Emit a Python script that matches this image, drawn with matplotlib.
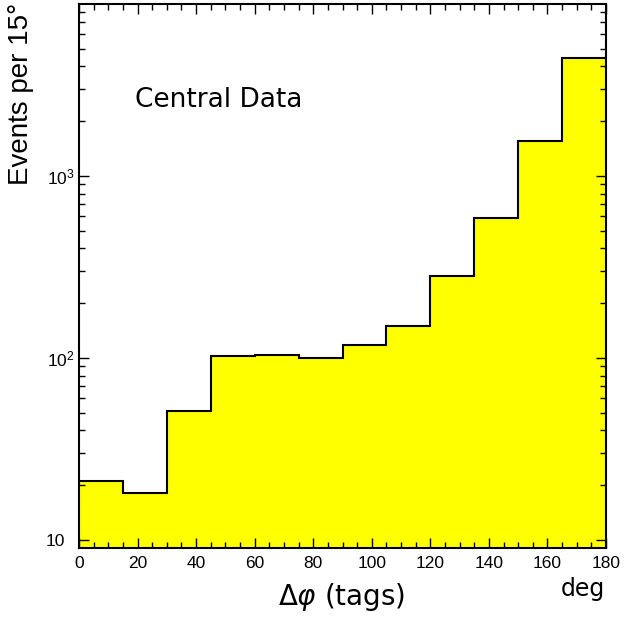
import numpy as np
import matplotlib
matplotlib.use("Agg")
import matplotlib.pyplot as plt
import matplotlib.transforms as mtransforms
from matplotlib.ticker import MultipleLocator, LogLocator, NullFormatter

plt.rcParams['font.family'] = ['Liberation Sans', 'DejaVu Sans']
plt.rcParams['mathtext.fontset'] = 'custom'
plt.rcParams['mathtext.rm'] = 'Liberation Sans'
plt.rcParams['mathtext.it'] = 'Liberation Sans:italic'

# bin edges in degrees and events per bin
bin_edges = [0, 15, 30, 45, 60, 75, 90, 105, 120, 135, 150, 165, 180]
events = [21.1, 18.1, 51, 102.5, 104, 100, 118, 150, 282, 590, 1560, 4450]
y_ticks = [10, 100, 1000]
y_tick_labels = ['10', r'$10^2$', r'$10^3$']

fig = plt.figure(figsize=(6.24, 6.19), dpi=100)
ax = fig.add_axes([0.1266, 0.1147, 0.8446, 0.8788])

ax.stairs(events, bin_edges, baseline=1, fill=True, color='#ffff00', zorder=1)
ax.stairs(events, bin_edges, baseline=None, color='black', linewidth=1.5, zorder=2)

ax.set_yscale('log')
ax.set_xlim(0, 180)
ax.set_ylim(9.03, 8810)

ax.xaxis.set_major_locator(MultipleLocator(20))
ax.xaxis.set_minor_locator(MultipleLocator(5))
ax.set_yticks(y_ticks)
ax.set_yticklabels(y_tick_labels)
ax.yaxis.set_minor_locator(LogLocator(base=10, subs=np.arange(2, 10)))
ax.yaxis.set_minor_formatter(NullFormatter())

ax.tick_params(which='both', direction='in', top=True, right=True, width=1.0)
ax.tick_params(which='major', length=7.2, labelsize=12.5)
ax.tick_params(which='minor', length=4.2)
ax.tick_params(axis='x', which='major', pad=6)
ax.tick_params(axis='y', which='major', pad=3)
for s in ax.spines.values():
    s.set_linewidth(1.5)

# keep the plain "10" lined up with the bases of 10^2 and 10^3
lbl = ax.get_yticklabels()[0]
lbl.set_transform(lbl.get_transform() +
                  mtransforms.ScaledTranslation(-7 / 72, 0, fig.dpi_scale_trans))

fig.text(21 / 624, 1 - 3 / 619, 'Events per 15°', fontsize=20, rotation=90,
         ha='center', va='top')
fig.text(0.547, 0.0355, r'$\Delta\varphi$ (tags)', fontsize=20, ha='center',
         va='center', family='DejaVu Sans', math_fontfamily='dejavusans')
fig.text(0.934, 0.0485, 'deg', fontsize=17, ha='center', va='center',
         family='DejaVu Sans')
ax.text(0.106, 0.811, 'Central Data', transform=ax.transAxes, fontsize=19,
        family='DejaVu Sans', va='baseline')

fig.savefig('out.png', dpi=100)
